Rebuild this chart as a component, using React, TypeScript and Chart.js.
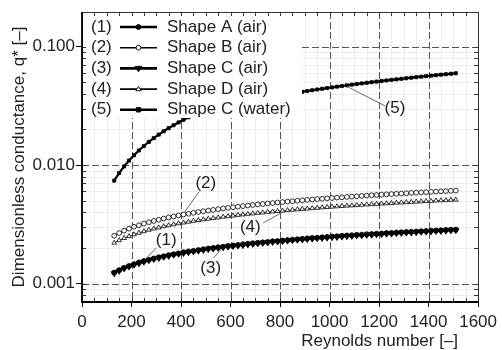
import React, { useEffect, useRef } from 'react';
import { Chart, registerables } from 'chart.js';

Chart.register(...registerables);

// ---------------- data ----------------
const reynolds = [
  130, 150, 170, 190, 210, 230, 250, 270, 290, 310,
  330, 350, 370, 390, 410, 430, 450, 470, 490, 510,
  530, 550, 570, 590, 610, 630, 650, 670, 690, 710,
  730, 750, 770, 790, 810, 830, 850, 870, 890, 910,
  930, 950, 970, 990, 1010, 1030, 1050, 1070, 1090, 1110,
  1130, 1150, 1170, 1190, 1210, 1230, 1250, 1270, 1290, 1310,
  1330, 1350, 1370, 1390, 1410, 1430, 1450, 1470, 1490, 1510,
];

const shapeAAir = [
  0.00124, 0.00130, 0.00136, 0.00141, 0.00146, 0.00151, 0.00155, 0.00159, 0.00163, 0.00167,
  0.00170, 0.00174, 0.00177, 0.00180, 0.00184, 0.00187, 0.00189, 0.00192, 0.00195, 0.00198,
  0.00200, 0.00203, 0.00205, 0.00208, 0.00210, 0.00212, 0.00215, 0.00217, 0.00219, 0.00221,
  0.00223, 0.00225, 0.00228, 0.00229, 0.00231, 0.00233, 0.00235, 0.00237, 0.00239, 0.00241,
  0.00243, 0.00244, 0.00246, 0.00248, 0.00250, 0.00251, 0.00253, 0.00255, 0.00256, 0.00258,
  0.00259, 0.00261, 0.00262, 0.00264, 0.00265, 0.00267, 0.00268, 0.00270, 0.00271, 0.00273,
  0.00274, 0.00275, 0.00277, 0.00278, 0.00280, 0.00281, 0.00282, 0.00284, 0.00285, 0.00286,
];

const shapeBAir = [
  0.00254, 0.00267, 0.00280, 0.00291, 0.00302, 0.00311, 0.00321, 0.00330, 0.00338, 0.00346,
  0.00354, 0.00362, 0.00369, 0.00376, 0.00383, 0.00389, 0.00396, 0.00402, 0.00408, 0.00414,
  0.00419, 0.00425, 0.00431, 0.00436, 0.00441, 0.00446, 0.00451, 0.00456, 0.00461, 0.00466,
  0.00470, 0.00475, 0.00479, 0.00484, 0.00488, 0.00492, 0.00496, 0.00501, 0.00505, 0.00509,
  0.00513, 0.00517, 0.00520, 0.00524, 0.00528, 0.00532, 0.00535, 0.00539, 0.00543, 0.00546,
  0.00550, 0.00553, 0.00557, 0.00560, 0.00563, 0.00567, 0.00570, 0.00573, 0.00576, 0.00579,
  0.00583, 0.00586, 0.00589, 0.00592, 0.00595, 0.00598, 0.00601, 0.00604, 0.00607, 0.00610,
];

const shapeCAir = [
  0.00122, 0.00128, 0.00134, 0.00139, 0.00144, 0.00148, 0.00153, 0.00157, 0.00161, 0.00164,
  0.00168, 0.00171, 0.00175, 0.00178, 0.00181, 0.00184, 0.00187, 0.00189, 0.00192, 0.00195,
  0.00197, 0.00200, 0.00202, 0.00205, 0.00207, 0.00209, 0.00211, 0.00214, 0.00216, 0.00218,
  0.00220, 0.00222, 0.00224, 0.00226, 0.00228, 0.00230, 0.00232, 0.00234, 0.00235, 0.00237,
  0.00239, 0.00241, 0.00242, 0.00244, 0.00246, 0.00247, 0.00249, 0.00251, 0.00252, 0.00254,
  0.00255, 0.00257, 0.00258, 0.00260, 0.00261, 0.00263, 0.00264, 0.00266, 0.00267, 0.00269,
  0.00270, 0.00271, 0.00273, 0.00274, 0.00275, 0.00277, 0.00278, 0.00279, 0.00281, 0.00282,
];

const shapeDAir = [
  0.00221, 0.00232, 0.00242, 0.00251, 0.00260, 0.00268, 0.00276, 0.00284, 0.00291, 0.00297,
  0.00304, 0.00310, 0.00316, 0.00322, 0.00327, 0.00332, 0.00338, 0.00343, 0.00348, 0.00352,
  0.00357, 0.00361, 0.00366, 0.00370, 0.00374, 0.00379, 0.00383, 0.00387, 0.00390, 0.00394,
  0.00398, 0.00402, 0.00405, 0.00409, 0.00412, 0.00416, 0.00419, 0.00423, 0.00426, 0.00429,
  0.00432, 0.00435, 0.00439, 0.00442, 0.00445, 0.00448, 0.00451, 0.00454, 0.00456, 0.00459,
  0.00462, 0.00465, 0.00467, 0.00470, 0.00473, 0.00475, 0.00478, 0.00481, 0.00483, 0.00486,
  0.00488, 0.00491, 0.00493, 0.00496, 0.00498, 0.00501, 0.00503, 0.00505, 0.00508, 0.00510,
];

const shapeCWater = [
  0.00740, 0.00857, 0.00975, 0.01093, 0.01212, 0.01331, 0.01450, 0.01570, 0.01690, 0.01810,
  0.01931, 0.02051, 0.02172, 0.02293, 0.02414, 0.02536, 0.02620, 0.02720, 0.02820, 0.02920,
  0.03010, 0.03100, 0.03180, 0.03260, 0.03330, 0.03400, 0.03460, 0.03520, 0.03580, 0.03640,
  0.03700, 0.03750, 0.03800, 0.03850, 0.03910, 0.03970, 0.04032, 0.04096, 0.04159, 0.04222,
  0.04285, 0.04348, 0.04410, 0.04471, 0.04533, 0.04594, 0.04654, 0.04714, 0.04775, 0.04834,
  0.04893, 0.04952, 0.05011, 0.05069, 0.05126, 0.05184, 0.05241, 0.05297, 0.05354, 0.05411,
  0.05467, 0.05521, 0.05578, 0.05633, 0.05688, 0.05742, 0.05797, 0.05851, 0.05905, 0.05958,
];

const seriesLabels = ['Shape A (air)', 'Shape B (air)', 'Shape C (air)', 'Shape D (air)', 'Shape C (water)'];
const seriesTags = ['(1)', '(2)', '(3)', '(4)', '(5)'];
const seriesValues = [shapeAAir, shapeBAir, shapeCAir, shapeDAir, shapeCWater];

const xTickValues = [0, 200, 400, 600, 800, 1000, 1200, 1400, 1600];
const yTickValues = [0.001, 0.01, 0.1];
const xMinorStep = 50;

const xTitle = 'Reynolds number [–]';
const yTitle = 'Dimensionless conductance, q* [–]';

// callouts: label and leader line in data coordinates
const callouts = [
  { text: '(1)', at: [340, 0.00234], from: [300, 0.00200], to: [260, 0.00164] },
  { text: '(2)', at: [500, 0.00708], from: [472, 0.00594], to: [412, 0.00395] },
  { text: '(3)', at: [520, 0.00136], from: [532, 0.00165], to: [564, 0.00197] },
  { text: '(4)', at: [680, 0.00301], from: [732, 0.00325], to: [804, 0.00395] },
  { text: '(5)', at: [1264, 0.0304], from: [1224, 0.0316], to: [1072, 0.046] },
];

// ---------------- styles ----------------
const FONT = '"Liberation Sans", Arial, Helvetica, sans-serif';
const FS = 17;
const TEXT = '#222';

type Kind = 'circle' | 'triDown' | 'triUp' | 'rect';
const seriesStyles: { kind: Kind; filled: boolean; r: number; lw: number; legendLw: number }[] = [
  { kind: 'circle', filled: true, r: 2.5, lw: 1.4, legendLw: 2.6 },
  { kind: 'circle', filled: false, r: 2.4, lw: 0.8, legendLw: 1.6 },
  { kind: 'triDown', filled: true, r: 3.4, lw: 1.4, legendLw: 2.6 },
  { kind: 'triUp', filled: false, r: 2.7, lw: 0.8, legendLw: 1.6 },
  { kind: 'rect', filled: true, r: 2.2, lw: 2.2, legendLw: 2.6 },
];

function drawMarker(ctx: CanvasRenderingContext2D, kind: Kind, x: number, y: number, r: number, filled: boolean) {
  ctx.beginPath();
  if (kind === 'circle') ctx.arc(x, y, r, 0, Math.PI * 2);
  else if (kind === 'triDown') {
    ctx.moveTo(x - r, y - r * 0.6);
    ctx.lineTo(x + r, y - r * 0.6);
    ctx.lineTo(x, y + r);
    ctx.closePath();
  } else if (kind === 'triUp') {
    ctx.moveTo(x - r, y + r * 0.6);
    ctx.lineTo(x + r, y + r * 0.6);
    ctx.lineTo(x, y - r);
    ctx.closePath();
  } else ctx.rect(x - r, y - r, 2 * r, 2 * r);
  ctx.fillStyle = filled ? '#000' : '#fff';
  ctx.fill();
  ctx.strokeStyle = '#000';
  ctx.lineWidth = 0.9;
  ctx.stroke();
}

const decorPlugin = {
  id: 'decor',
  beforeDatasetsDraw(chart: any) {
    const { ctx, chartArea: ca, scales } = chart;
    const xs = scales.x, ys = scales.y;
    ctx.save();
    // minor grid
    ctx.strokeStyle = '#ececec';
    ctx.lineWidth = 1;
    for (let v = xMinorStep; v < xs.max; v += xMinorStep) {
      if (v % 200 === 0) continue;
      const px = Math.round(xs.getPixelForValue(v)) + 0.5;
      ctx.beginPath(); ctx.moveTo(px, ca.top); ctx.lineTo(px, ca.bottom); ctx.stroke();
    }
    for (let e = -4; e <= 0; e++) {
      for (let m = 2; m <= 9; m++) {
        const v = m * Math.pow(10, e);
        if (v <= ys.min || v >= ys.max) continue;
        const py = Math.round(ys.getPixelForValue(v)) + 0.5;
        ctx.beginPath(); ctx.moveTo(ca.left, py); ctx.lineTo(ca.right, py); ctx.stroke();
      }
    }
    // major dashed grid
    ctx.strokeStyle = '#555';
    ctx.setLineDash([7, 3]);
    for (const v of xTickValues) {
      if (v <= xs.min || v >= xs.max) continue;
      const px = Math.round(xs.getPixelForValue(v)) + 0.5;
      ctx.beginPath(); ctx.moveTo(px, ca.top); ctx.lineTo(px, ca.bottom); ctx.stroke();
    }
    for (const v of yTickValues) {
      const py = Math.round(ys.getPixelForValue(v)) + 0.5;
      ctx.beginPath(); ctx.moveTo(ca.left, py); ctx.lineTo(ca.right, py); ctx.stroke();
    }
    ctx.restore();
  },
  afterDatasetsDraw(chart: any) {
    const { ctx, chartArea: ca, scales } = chart;
    const xs = scales.x, ys = scales.y;
    ctx.save();
    // legend box
    ctx.fillStyle = '#fff';
    ctx.fillRect(ca.left + 1, ca.top + 1, 219, 105);
    ctx.font = `${FS}px ${FONT}`;
    ctx.textBaseline = 'middle';
    seriesLabels.forEach((label, i) => {
      const st = seriesStyles[i];
      const y = ca.top + 15 + i * 20.7;
      ctx.fillStyle = TEXT;
      ctx.textAlign = 'left';
      ctx.fillText(seriesTags[i], ca.left + 9, y);
      ctx.strokeStyle = '#000';
      ctx.lineWidth = st.legendLw;
      ctx.beginPath(); ctx.moveTo(ca.left + 38, y); ctx.lineTo(ca.left + 75, y); ctx.stroke();
      drawMarker(ctx, st.kind, ca.left + 56.5, y, st.r, st.filled);
      ctx.fillStyle = TEXT;
      ctx.fillText(label, ca.left + 85, y);
    });
    // callouts
    for (const c of callouts) {
      ctx.strokeStyle = '#666';
      ctx.lineWidth = 1;
      ctx.beginPath();
      ctx.moveTo(xs.getPixelForValue(c.from[0]), ys.getPixelForValue(c.from[1]));
      ctx.lineTo(xs.getPixelForValue(c.to[0]), ys.getPixelForValue(c.to[1]));
      ctx.stroke();
      ctx.fillStyle = TEXT;
      ctx.textAlign = 'center';
      ctx.fillText(c.text, xs.getPixelForValue(c.at[0]), ys.getPixelForValue(c.at[1]));
    }
    // minor inward ticks
    ctx.strokeStyle = '#333';
    ctx.lineWidth = 1;
    for (let v = xMinorStep; v < xs.max; v += xMinorStep) {
      const px = Math.round(xs.getPixelForValue(v)) + 0.5;
      ctx.beginPath();
      ctx.moveTo(px, ca.top); ctx.lineTo(px, ca.top + 4);
      ctx.moveTo(px, ca.bottom); ctx.lineTo(px, ca.bottom - 4);
      ctx.stroke();
    }
    for (let e = -4; e <= 0; e++) {
      for (let m = 1; m <= 9; m++) {
        const v = m * Math.pow(10, e);
        if (v <= ys.min || v >= ys.max) continue;
        const py = Math.round(ys.getPixelForValue(v)) + 0.5;
        ctx.beginPath();
        ctx.moveTo(ca.left, py); ctx.lineTo(ca.left + 4, py);
        ctx.moveTo(ca.right, py); ctx.lineTo(ca.right - 4, py);
        ctx.stroke();
      }
    }
    // frame
    ctx.strokeStyle = '#333';
    ctx.lineWidth = 1;
    ctx.strokeRect(Math.round(ca.left) + 0.5, Math.round(ca.top) + 0.5, Math.round(ca.right - ca.left), Math.round(ca.bottom - ca.top));
    ctx.strokeStyle = '#000';
    ctx.lineWidth = 1.8;
    ctx.beginPath();
    ctx.moveTo(ca.left, ca.top); ctx.lineTo(ca.left, ca.bottom); ctx.lineTo(ca.right, ca.bottom);
    ctx.stroke();
    // x title
    ctx.fillStyle = TEXT;
    ctx.textAlign = 'right';
    ctx.textBaseline = 'middle';
    ctx.fillText(xTitle, ca.right - 20, ca.bottom + 39);
    ctx.restore();
  },
};

export default function App() {
  const ref = useRef<HTMLCanvasElement | null>(null);
  useEffect(() => {
    document.body.style.margin = '0';
    const canvas = ref.current;
    if (!canvas) return;
    const datasets = seriesValues.map((vals, i) => {
      const st = seriesStyles[i];
      const pointStyle = st.kind === 'rect' ? 'rect' : st.kind === 'circle' ? 'circle' : 'triangle';
      return {
        label: seriesLabels[i],
        data: reynolds.map((x, j) => ({ x, y: vals[j] })),
        showLine: true,
        borderColor: '#000',
        borderWidth: st.lw,
        pointStyle,
        pointRotation: st.kind === 'triDown' ? 180 : 0,
        pointRadius: st.r,
        pointBackgroundColor: st.filled ? '#000' : '#fff',
        pointBorderColor: '#000',
        pointBorderWidth: 0.8,
      };
    });
    const chart = new Chart(canvas, {
      type: 'scatter',
      data: { datasets: datasets as any },
      options: {
        animation: false,
        responsive: false,
        devicePixelRatio: 1,
        layout: { padding: { left: 0, top: 12, right: 20, bottom: 0 } },
        plugins: { legend: { display: false }, tooltip: { enabled: false } },
        scales: {
          x: {
            type: 'linear',
            min: 0,
            max: 1600,
            afterBuildTicks: (s: any) => { s.ticks = xTickValues.map((value) => ({ value })); },
            afterFit: (s: any) => { s.height = 48; },
            ticks: {
              font: { family: FONT, size: FS },
              color: TEXT,
              padding: 5,
              maxRotation: 0,
              autoSkip: false,
              callback: (v: any) => String(v),
            },
            grid: { drawOnChartArea: false, drawTicks: true, tickLength: 5, color: '#000' },
            border: { display: false },
          },
          y: {
            type: 'logarithmic',
            min: 0.0007,
            max: 0.196,
            afterBuildTicks: (s: any) => { s.ticks = yTickValues.map((value) => ({ value })); },
            afterFit: (s: any) => { s.width = 82; },
            ticks: {
              font: { family: FONT, size: FS },
              color: TEXT,
              padding: 1,
              callback: (v: any) => Number(v).toFixed(3),
            },
            grid: { drawOnChartArea: false, drawTicks: true, tickLength: 6, color: '#000' },
            border: { display: false },
            title: { display: true, text: yTitle, font: { family: FONT, size: FS }, color: TEXT, padding: { top: 9, bottom: 0 } },
          },
        },
      },
      plugins: [decorPlugin],
    });
    return () => chart.destroy();
  }, []);
  return (
    <div style={{ width: 502, height: 350, background: '#fff' }}>
      <canvas ref={ref} width={502} height={350} style={{ display: 'block' }} />
    </div>
  );
}
